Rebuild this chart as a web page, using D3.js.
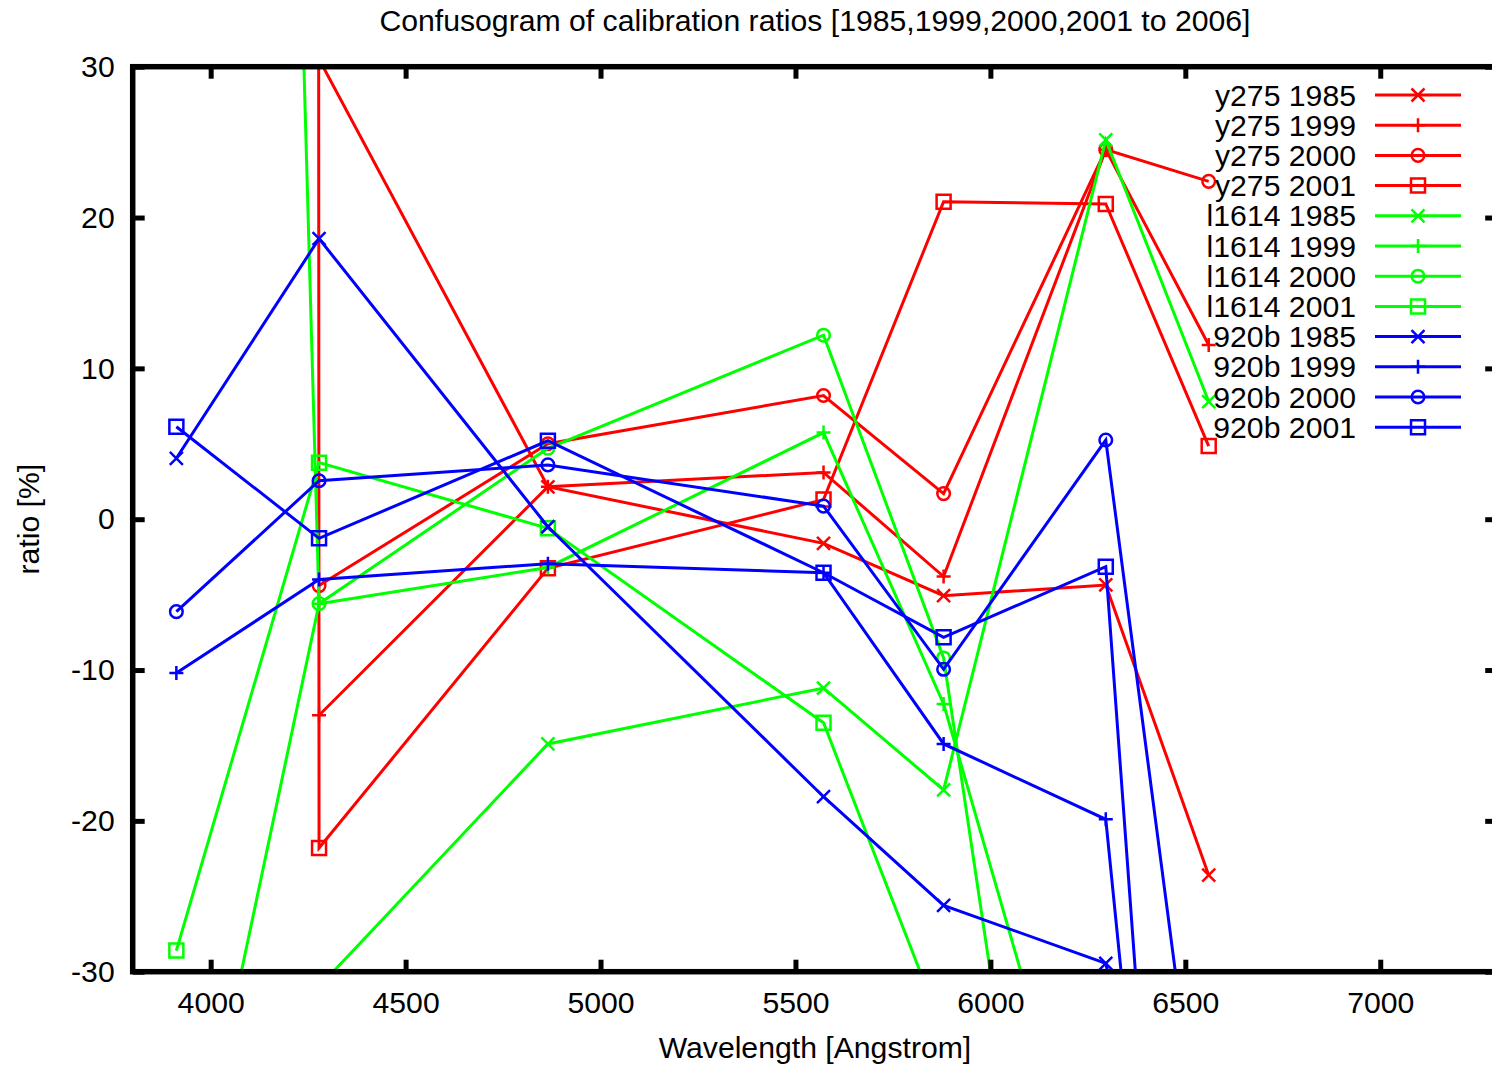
<!DOCTYPE html>
<html>
<head>
<meta charset="utf-8">
<script src="https://cdn.jsdelivr.net/npm/d3@7"></script>
<style>
  html, body { margin: 0; padding: 0; background: #fff; }
  svg { display: block; }
  text { font-family: "Liberation Sans", Arial, Helvetica, sans-serif; fill: #000; }
</style>
</head>
<body>
<svg id="chart" width="1492" height="1067"></svg>
<script>
// Wavelengths (Angstrom) of the calibration lines
const wavelengths = [3912, 4278, 4865, 5572, 5880, 6296, 6560];

// Calibration ratios [%] per star and epoch (null = not measured)
const y275_1985  = [null, 30.5, 2.15, -1.6, -5.07, -4.36, -23.6];
const y275_1999  = [null, -13.0, 2.15, 3.1, -3.8, 24.5, 11.55];
const y275_2000  = [null, -4.4, 5.0, 8.2, 1.7, 24.5, 22.4];
const y275_2001  = [20000, -21.8, -3.26, 1.3, 21.05, 20.9, 4.85];
const l1614_1985 = [null, -31.0, -14.9, -11.2, -17.95, 25.15, 7.8];
const l1614_1999 = [330, -5.6, -3.2, 5.74, -12.25, -49.5, null];
const l1614_2000 = [-50.4, -5.6, 4.7, 12.2, -9.2, -81.4, null];
const l1614_2001 = [-28.6, 3.75, -0.6, -13.5, -34.0, null, null];
const b920_1985  = [4.04, 18.6, -0.5, -18.4, -25.6, -29.45, -60];
const b920_1999  = [-10.2, -4.0, -2.95, -3.55, -14.9, -19.9, -87.8];
const b920_2000  = [-6.13, 2.55, 3.6, 0.87, -9.95, 5.25, -46.9];
const b920_2001  = [6.13, -1.27, 5.2, -3.55, -7.83, -3.15, -96.5];

const seriesLabels = [
  "y275 1985", "y275 1999", "y275 2000", "y275 2001",
  "l1614 1985", "l1614 1999", "l1614 2000", "l1614 2001",
  "920b 1985", "920b 1999", "920b 2000", "920b 2001"
];
const seriesValues = [
  y275_1985, y275_1999, y275_2000, y275_2001,
  l1614_1985, l1614_1999, l1614_2000, l1614_2001,
  b920_1985, b920_1999, b920_2000, b920_2001
];

const xTickValues = [4000, 4500, 5000, 5500, 6000, 6500, 7000];
const yTickValues = [-30, -20, -10, 0, 10, 20, 30];

const titleText = "Confusogram of calibration ratios [1985,1999,2000,2001 to 2006]";
const xLabelText = "Wavelength [Angstrom]";
const yLabelText = "ratio [%]";

// ---- styling ----
const starColors = ["#ff0000", "#00ff00", "#0000ff"];     // y275, l1614, 920b
const yearSymbols = ["cross", "plus", "circle", "square"]; // 1985, 1999, 2000, 2001
const FS = 30.2;

const svg = d3.select("#chart");
const plot = { left: 132.7, right: 1497.2, top: 66.7, bottom: 971.7 };

const x = d3.scaleLinear().domain([3800, 7300]).range([plot.left, plot.right]);
const y = d3.scaleLinear().domain([-30, 30]).range([plot.bottom, plot.top]);

svg.append("defs").append("clipPath").attr("id", "plotClip")
  .append("rect")
  .attr("x", plot.left).attr("y", plot.top)
  .attr("width", plot.right - plot.left).attr("height", plot.bottom - plot.top);

// marker path for a symbol centred at (cx, cy)
function symbolPath(kind, cx, cy) {
  const p = d3.path();
  if (kind === "cross") {
    const s = 6.5;
    p.moveTo(cx - s, cy - s); p.lineTo(cx + s, cy + s);
    p.moveTo(cx - s, cy + s); p.lineTo(cx + s, cy - s);
  } else if (kind === "plus") {
    const s = 7;
    p.moveTo(cx - s, cy); p.lineTo(cx + s, cy);
    p.moveTo(cx, cy - s); p.lineTo(cx, cy + s);
  } else if (kind === "circle") {
    const r = 6.3;
    p.moveTo(cx + r, cy); p.arc(cx, cy, r, 0, 2 * Math.PI);
  } else {
    const s = 7;
    p.rect(cx - s, cy - s, 2 * s, 2 * s);
  }
  return p.toString();
}

const line = d3.line()
  .defined(d => d[1] !== null)
  .x(d => x(d[0]))
  .y(d => y(d[1]));

const [yMin, yMax] = y.domain();
const [xMin, xMax] = x.domain();

const seriesG = svg.append("g");
const legendG = svg.append("g");
const legendRow0 = 95, legendStep = 30.2;

seriesValues.forEach((vals, i) => {
  const color = starColors[Math.floor(i / 4)];
  const sym = yearSymbols[i % 4];
  const pts = wavelengths.map((w, j) => [w, vals[j]]);

  // legend entry
  const ly = legendRow0 + i * legendStep;
  legendG.append("text")
    .attr("x", 1356).attr("y", ly + 10.5)
    .attr("text-anchor", "end")
    .style("font-size", FS + "px")
    .text(seriesLabels[i]);
  legendG.append("line")
    .attr("x1", 1375).attr("x2", 1461).attr("y1", ly).attr("y2", ly)
    .attr("stroke", color).attr("stroke-width", 3);
  legendG.append("path")
    .attr("d", symbolPath(sym, 1418, ly))
    .attr("fill", "none").attr("stroke", color).attr("stroke-width", 2.5);

  const g = seriesG.append("g");
  g.append("path")
    .attr("clip-path", "url(#plotClip)")
    .attr("d", line(pts))
    .attr("fill", "none")
    .attr("stroke", color)
    .attr("stroke-width", 3)
    .attr("stroke-linejoin", "miter");

  g.selectAll("path.pt")
    .data(pts.filter(d => d[1] !== null && d[1] >= yMin && d[1] <= yMax && d[0] >= xMin && d[0] <= xMax))
    .join("path")
    .attr("class", "pt")
    .attr("d", d => symbolPath(sym, x(d[0]), y(d[1])))
    .attr("fill", "none")
    .attr("stroke", color)
    .attr("stroke-width", 2.5);
});

// ---- axes: inward ticks on all four sides ----
const tickLen = 12;
const plainNumber = d => String(d);
function styleAxis(g) {
  g.select(".domain").remove();
  g.selectAll(".tick line").attr("stroke", "#000").attr("stroke-width", 5);
  g.selectAll(".tick text")
    .style("font-size", FS + "px")
    .style("font-family", '"Liberation Sans", Arial, sans-serif')
    .attr("fill", "#000");
}

svg.append("g")
  .attr("transform", `translate(0,${plot.bottom})`)
  .call(d3.axisBottom(x).tickValues(xTickValues).tickSize(-tickLen).tickPadding(20).tickFormat(plainNumber))
  .call(styleAxis);
svg.append("g")
  .attr("transform", `translate(0,${plot.top})`)
  .call(d3.axisTop(x).tickValues(xTickValues).tickSize(-tickLen).tickFormat(""))
  .call(styleAxis);
svg.append("g")
  .attr("transform", `translate(${plot.left},0)`)
  .call(d3.axisLeft(y).tickValues(yTickValues).tickSize(-tickLen).tickPadding(18).tickFormat(plainNumber))
  .call(styleAxis);
svg.append("g")
  .attr("transform", `translate(${plot.right},0)`)
  .call(d3.axisRight(y).tickValues(yTickValues).tickSize(-tickLen).tickFormat(""))
  .call(styleAxis);

// frame
svg.append("rect")
  .attr("x", plot.left).attr("y", plot.top)
  .attr("width", plot.right - plot.left).attr("height", plot.bottom - plot.top)
  .attr("fill", "none").attr("stroke", "#000").attr("stroke-width", 5.5);

// titles
svg.append("text")
  .attr("x", (plot.left + plot.right) / 2).attr("y", 31)
  .attr("text-anchor", "middle").style("font-size", FS + "px")
  .text(titleText);
svg.append("text")
  .attr("x", (plot.left + plot.right) / 2).attr("y", 1058)
  .attr("text-anchor", "middle").style("font-size", FS + "px")
  .text(xLabelText);
svg.append("text")
  .attr("transform", `translate(39,${y(0)}) rotate(-90)`)
  .attr("text-anchor", "middle").style("font-size", FS + "px")
  .text(yLabelText);
</script>
</body>
</html>
